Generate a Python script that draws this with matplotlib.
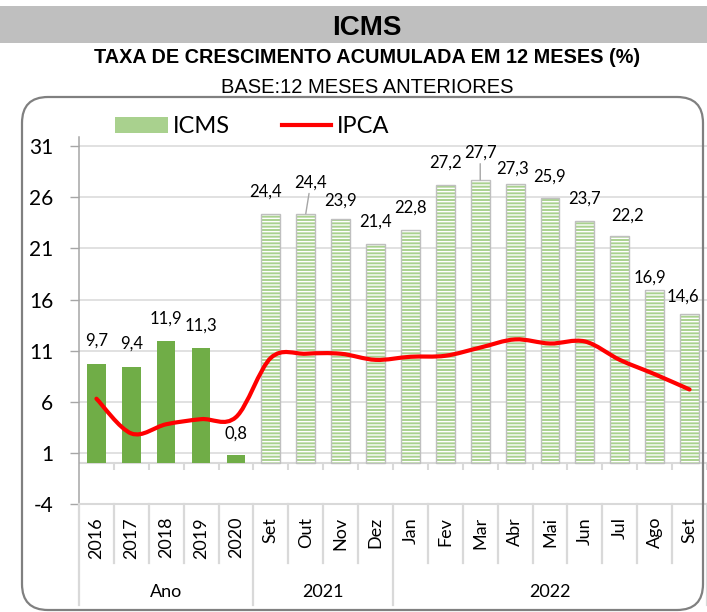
import numpy as np
import matplotlib
matplotlib.use('Agg')
import matplotlib.pyplot as plt
from matplotlib.patches import Rectangle, FancyBboxPatch, PathPatch
from matplotlib.path import Path
from matplotlib.lines import Line2D
from matplotlib.transforms import blended_transform_factory, IdentityTransform

# dados
categorias = ['2016', '2017', '2018', '2019', '2020', 'Set', 'Out', 'Nov', 'Dez',
              'Jan', 'Fev', 'Mar', 'Abr', 'Mai', 'Jun', 'Jul', 'Ago', 'Set']
grupos = ['Ano', '2021', '2022']
tamanho_grupos = [5, 4, 9]
icms = [9.7, 9.4, 11.9, 11.3, 0.8, 24.4, 24.4, 23.9, 21.4, 22.8, 27.2, 27.7,
        27.3, 25.9, 23.7, 22.2, 16.9, 14.6]
ipca = [6.3, 2.9, 3.8, 4.3, 4.5, 10.3, 10.7, 10.7, 10.1, 10.4, 10.5, 11.3,
        12.1, 11.7, 11.9, 10.1, 8.7, 7.2]
n_anual = 5

plt.rcParams['axes.unicode_minus'] = False

W, H = 707, 612
FONTE = ['Lato', 'DejaVu Sans']
NARROW = ['Liberation Sans Narrow', 'Liberation Sans', 'DejaVu Sans']
CINZA_CLARO = '#D9D9D9'
CINZA = '#A6A6A6'


def fy(y):
    return 1 - y / H


fig = plt.figure(figsize=(W / 100, H / 100), dpi=100)

# faixa do titulo
fig.patches.append(Rectangle((0, fy(43)), 1, 37 / H, transform=fig.transFigure,
                             facecolor='#BFBFBF', edgecolor='none', zorder=0))
fig.text(367 / W, fy(35), 'ICMS', ha='center', va='baseline', fontsize=20,
         fontweight='bold', family=NARROW)
fig.text(367 / W, fy(63), 'TAXA DE CRESCIMENTO ACUMULADA EM 12 MESES (%)',
         ha='center', va='baseline', fontsize=14.3, fontweight='bold', family=NARROW)
fig.text(367 / W, fy(93), 'BASE:12 MESES ANTERIORES', ha='center', va='baseline',
         fontsize=14.5, family=NARROW)

# moldura arredondada
fig.patches.append(FancyBboxPatch((22, H - 610), 681, 513,
                                  boxstyle='round,pad=0,rounding_size=26',
                                  transform=IdentityTransform(), facecolor='none',
                                  edgecolor='#808080', linewidth=1.6, zorder=1))

ax = fig.add_axes([79 / W, fy(504), 628 / W, (504 - 137) / H])
ax.set_facecolor('none')
x = np.arange(len(categorias))
ax.set_xlim(-0.5, len(categorias) - 0.5)
ax.set_ylim(-4, 31.9)

for s in ['top', 'right']:
    ax.spines[s].set_visible(False)
ax.spines['left'].set_color(CINZA)
ax.spines['left'].set_linewidth(1.1)
ax.spines['bottom'].set_color(CINZA_CLARO)
ax.spines['bottom'].set_linewidth(1.5)

ax.set_yticks(np.arange(-4, 32, 5))
ax.tick_params(axis='y', length=6.5, width=1, color=CINZA, pad=12, labelsize=15)
for t in ax.get_yticklabels():
    t.set_family(FONTE)
ax.set_xticks([])
ax.yaxis.grid(True, color=CINZA_CLARO, linewidth=1.1, zorder=0)
ax.set_axisbelow(True)

# linha do zero com marcas
ax.axhline(0, color=CINZA_CLARO, linewidth=1.5, zorder=1)
ax.vlines(x + 0.5, -0.7, 0, color=CINZA_CLARO, linewidth=1.5, zorder=1)

# barras
plt.rcParams['hatch.linewidth'] = 1.0
ax.bar(x[:n_anual], icms[:n_anual], width=0.53, color='#70AD47', zorder=2)
ax.bar(x[n_anual:], icms[n_anual:], width=0.54, color='#A9D18E', edgecolor='white',
       hatch='-----', linewidth=0, zorder=2)
ax.bar(x[n_anual:], icms[n_anual:], width=0.54, fill=False, edgecolor='#BFBFBF',
       linewidth=1, zorder=2.1)

# linha suavizada do IPCA
py = np.array(ipca, dtype=float)
px = x.astype(float)
n = len(px)
verts = [(px[0], py[0])]
codes = [Path.MOVETO]
for i in range(n - 1):
    p0 = np.array([px[max(i - 1, 0)], py[max(i - 1, 0)]])
    p1 = np.array([px[i], py[i]])
    p2 = np.array([px[i + 1], py[i + 1]])
    p3 = np.array([px[min(i + 2, n - 1)], py[min(i + 2, n - 1)]])
    c1 = p1 + (p2 - p0) / 6
    c2 = p2 - (p3 - p1) / 6
    verts += [tuple(c1), tuple(c2), tuple(p2)]
    codes += [Path.CURVE4] * 3
ax.add_patch(PathPatch(Path(verts, codes), fill=False, edgecolor='#FF0000',
                       linewidth=3, capstyle='round', joinstyle='round', zorder=3))

# rotulos de dados
deslocamentos = [(0, 23), (0, 23), (0, 23), (0, 22), (0, 21), (-5, 22), (5, 31),
                 (0, 18), (0, 23), (0, 22), (0, 22), (0, 27), (-3, 15), (0, 22),
                 (0, 22), (8, 21), (-5, 13), (-7, 17)]
com_guia = [6, 11]
for i, v in enumerate(icms):
    dx, dy = deslocamentos[i]
    rot = ('%.1f' % v).replace('.', ',')
    kw = {}
    if i in com_guia:
        kw['arrowprops'] = dict(arrowstyle='-', color=CINZA, lw=1, shrinkA=0, shrinkB=0)
    ax.annotate(rot, xy=(i, v), xytext=(dx, dy), textcoords='offset pixels',
                ha='center', va='center', fontsize=12, family=FONTE, zorder=4, **kw)

# tabela de categorias abaixo do eixo
trans = blended_transform_factory(ax.transData, fig.transFigure)
for i, c in enumerate(categorias):
    ax.text(i, fy(517), c, rotation=90, ha='center', va='top', fontsize=13,
            family=FONTE, transform=trans, clip_on=False)

limites = np.cumsum([0] + tamanho_grupos) - 0.5
for b in np.arange(-0.5, len(categorias), 1.0):
    fundo = 605 if b in limites else 563
    fig.lines.append(Line2D([b, b], [fy(504), fy(fundo)], transform=trans,
                            color=CINZA_CLARO, linewidth=1.6))
for g, a, b in zip(grupos, limites[:-1], limites[1:]):
    ax.text((a + b) / 2, fy(597), g, ha='center', va='baseline', fontsize=13,
            family=FONTE, transform=trans, clip_on=False)

# legenda
fig.patches.append(Rectangle((115 / W, fy(133)), 53 / W, 16 / H, transform=fig.transFigure,
                             facecolor='#A9D18E', edgecolor='none'))
fig.text(173 / W, fy(133), 'ICMS', ha='left', va='baseline', fontsize=17, family=FONTE)
fig.lines.append(Line2D([282 / W, 331 / W], [fy(125), fy(125)], transform=fig.transFigure,
                        color='#FF0000', linewidth=3))
fig.text(337 / W, fy(133), 'IPCA', ha='left', va='baseline', fontsize=17, family=FONTE)

fig.savefig('out.png', dpi=100)
